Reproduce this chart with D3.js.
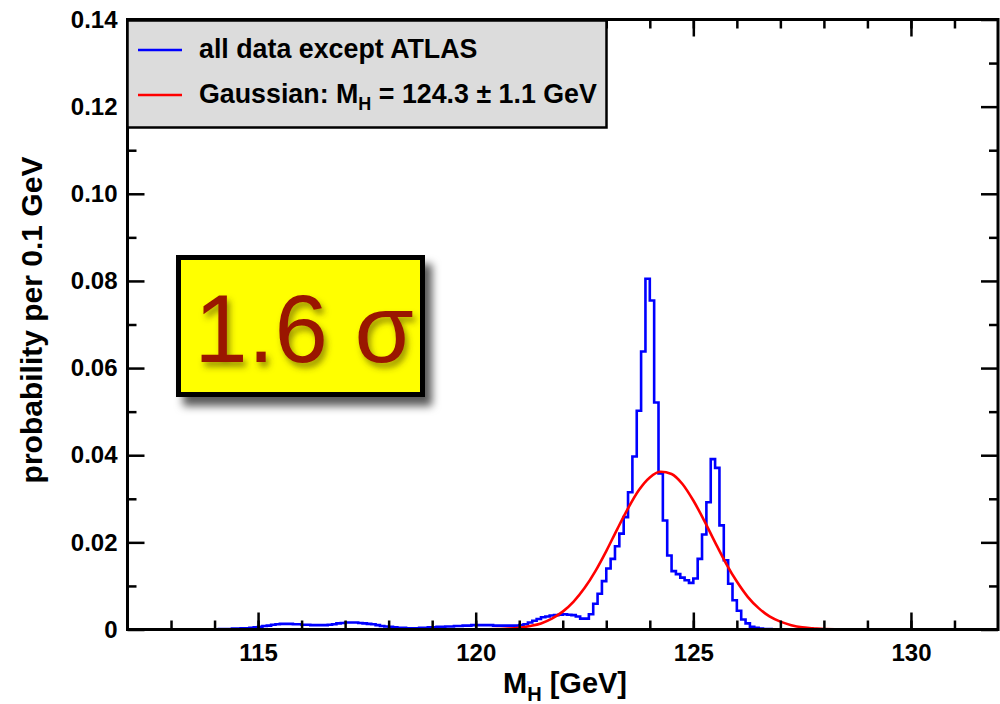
<!DOCTYPE html>
<html>
<head>
<meta charset="utf-8">
<title>Higgs mass probability</title>
<script src="https://d3js.org/d3.v7.min.js"></script>
<style>
    body { margin: 0; background: #fff; }
    svg { display: block; font-family: "Liberation Sans", Arial, Helvetica, sans-serif; }
</style>
</head>
<body>
<div id="chart"></div>
<script>
// histogram "all data except ATLAS": 0.1 GeV bins starting at histStart
const histStart = 114.0;
const binWidth = 0.1;
const histValues = [
    0.0000, 0.0001, 0.0001, 0.0001, 0.0002, 0.0002, 0.0003, 0.0003, 0.0004, 0.0005, // 114.0
    0.0006, 0.0008, 0.0009, 0.0011, 0.0012, 0.0013, 0.0013, 0.0013, 0.0012, 0.0012, // 115.0
    0.0011, 0.0011, 0.0010, 0.0010, 0.0010, 0.0010, 0.0011, 0.0012, 0.0014, 0.0015, // 116.0
    0.0016, 0.0016, 0.0016, 0.0015, 0.0014, 0.0013, 0.0012, 0.0010, 0.0008, 0.0007, // 117.0
    0.0006, 0.0005, 0.0004, 0.0004, 0.0003, 0.0003, 0.0003, 0.0004, 0.0004, 0.0005, // 118.0
    0.0005, 0.0006, 0.0006, 0.0007, 0.0007, 0.0008, 0.0008, 0.0009, 0.0009, 0.0010, // 119.0
    0.0010, 0.0010, 0.0010, 0.0010, 0.0009, 0.0009, 0.0009, 0.0009, 0.0009, 0.0009, // 120.0
    0.0010, 0.0012, 0.0016, 0.0020, 0.0024, 0.0028, 0.0030, 0.0032, 0.0033, 0.0034, // 121.0
    0.0035, 0.0034, 0.0033, 0.0030, 0.0025, 0.0025, 0.0035, 0.0059, 0.0082, 0.0111, // 122.0
    0.0140, 0.0162, 0.0191, 0.0220, 0.0258, 0.0315, 0.0397, 0.0502, 0.0638, 0.0805, // 123.0
    0.0755, 0.0521, 0.0358, 0.0250, 0.0170, 0.0134, 0.0127, 0.0119, 0.0113, 0.0107, // 124.0
    0.0117, 0.0162, 0.0218, 0.0292, 0.0391, 0.0371, 0.0239, 0.0159, 0.0105, 0.0067, // 125.0
    0.0043, 0.0023, 0.0014, 0.0006, 0.0004, 0.0002, 0.0001, 0.0001, 0.0000          // 126.0
];

// Gaussian curve (M_H = 124.3 +- 1.1 GeV)
const gaussX = [120.0, 120.5, 120.75, 121.0, 121.25, 121.5, 121.75, 122.0, 122.25, 122.5, 122.75,
    123.0, 123.25, 123.5, 123.75, 124.0, 124.25, 124.5, 124.75, 125.0, 125.25, 125.5, 125.75,
    126.0, 126.25, 126.5, 126.75, 127.0, 127.25, 127.5, 127.75, 128.0, 128.5, 129.0];
const gaussY = [0.0000, 0.0001, 0.0002, 0.0004, 0.0008, 0.0014, 0.0025, 0.0041, 0.0064, 0.0095, 0.0134,
    0.0180, 0.0230, 0.0278, 0.0320, 0.0349, 0.0362, 0.0357, 0.0334, 0.0296, 0.0250, 0.0200, 0.0152,
    0.0110, 0.0075, 0.0049, 0.0030, 0.0018, 0.0010, 0.0005, 0.0003, 0.0001, 0.0000, 0.0000];

const xMajorTicks = [115, 120, 125, 130];
const xMinorTicks = d3.range(113, 132, 1);
const yMajorTicks = [0, 0.02, 0.04, 0.06, 0.08, 0.10, 0.12, 0.14];
const yMinorTicks = [0.01, 0.03, 0.05, 0.07, 0.09, 0.11, 0.13];
const legendLabels = ["all data except ATLAS", "Gaussian: M"];
const legendColors = ["#0000ff", "#ff0000"];

const width = 1000, height = 704;
const margin = {left: 127.5, right: 2, top: 19.5, bottom: 74.5};

const x = d3.scaleLinear().domain([112, 132]).range([margin.left, width - margin.right]);
const y = d3.scaleLinear().domain([0, 0.14]).range([height - margin.bottom, margin.top]);

const svg = d3.select("#chart").append("svg")
    .attr("width", width)
    .attr("height", height);

const defs = svg.append("defs");
defs.append("filter").attr("id", "boxShadow")
    .attr("x", "-10%").attr("y", "-10%").attr("width", "130%").attr("height", "140%")
    .append("feDropShadow")
    .attr("dx", 7).attr("dy", 9).attr("stdDeviation", 4)
    .attr("flood-color", "#000").attr("flood-opacity", 0.65);
defs.append("filter").attr("id", "textShadow")
    .attr("x", "-10%").attr("y", "-10%").attr("width", "130%").attr("height", "140%")
    .append("feDropShadow")
    .attr("dx", 3).attr("dy", 5).attr("stdDeviation", 3)
    .attr("flood-color", "#4a3a00").attr("flood-opacity", 0.55);

// data lines
const histPoints = histValues.map((v, i) => [histStart + i * binWidth, v]);
histPoints.push([histStart + histValues.length * binWidth, 0]);

const stepLine = d3.line()
    .x(d => x(d[0]))
    .y(d => y(d[1]))
    .curve(d3.curveStepAfter);

svg.append("path")
    .datum(histPoints)
    .attr("fill", "none")
    .attr("stroke", legendColors[0])
    .attr("stroke-width", 2.6)
    .attr("d", stepLine);

const gaussLine = d3.line()
    .x((d, i) => x(gaussX[i]))
    .y(d => y(d))
    .curve(d3.curveMonotoneX);

svg.append("path")
    .datum(gaussY)
    .attr("fill", "none")
    .attr("stroke", legendColors[1])
    .attr("stroke-width", 2.6)
    .attr("d", gaussLine);

// axes, all ticks pointing inward
function styleAxis(g) {
    g.select(".domain").remove();
    g.selectAll(".tick line").attr("stroke", "#000").attr("stroke-width", 2.5);
    g.selectAll(".tick text")
        .attr("fill", "#000")
        .attr("font-size", 24)
        .attr("font-weight", "bold");
}

const bottom = height - margin.bottom;
const right = width - margin.right;

svg.append("g").attr("transform", `translate(0,${bottom})`)
    .call(d3.axisBottom(x).tickValues(xMinorTicks).tickSize(-9).tickFormat(""))
    .call(styleAxis);
svg.append("g").attr("transform", `translate(0,${bottom})`)
    .call(d3.axisBottom(x).tickValues(xMajorTicks).tickSize(-17).tickPadding(14).tickFormat(d3.format("d")))
    .call(styleAxis);
svg.append("g").attr("transform", `translate(0,${margin.top})`)
    .call(d3.axisTop(x).tickValues(xMinorTicks).tickSize(-9).tickFormat(""))
    .call(styleAxis);
svg.append("g").attr("transform", `translate(0,${margin.top})`)
    .call(d3.axisTop(x).tickValues(xMajorTicks).tickSize(-17).tickFormat(""))
    .call(styleAxis);

svg.append("g").attr("transform", `translate(${margin.left},0)`)
    .call(d3.axisLeft(y).tickValues(yMinorTicks).tickSize(-9).tickFormat(""))
    .call(styleAxis);
svg.append("g").attr("transform", `translate(${margin.left},0)`)
    .call(d3.axisLeft(y).tickValues(yMajorTicks).tickSize(-17).tickPadding(10)
        .tickFormat(d => d === 0 ? "0" : d3.format(".2f")(d)))
    .call(styleAxis);
svg.append("g").attr("transform", `translate(${right},0)`)
    .call(d3.axisRight(y).tickValues(yMinorTicks).tickSize(-9).tickFormat(""))
    .call(styleAxis);
svg.append("g").attr("transform", `translate(${right},0)`)
    .call(d3.axisRight(y).tickValues(yMajorTicks).tickSize(-17).tickFormat(""))
    .call(styleAxis);

svg.append("rect")
    .attr("x", margin.left).attr("y", margin.top)
    .attr("width", right - margin.left).attr("height", bottom - margin.top)
    .attr("fill", "none").attr("stroke", "#000").attr("stroke-width", 3);

// axis titles
const xTitle = svg.append("text")
    .attr("x", 565).attr("y", 693)
    .attr("text-anchor", "middle")
    .attr("font-size", 29).attr("font-weight", "bold");
xTitle.append("tspan").text("M");
xTitle.append("tspan").attr("font-size", 20).attr("dy", 8).text("H");
xTitle.append("tspan").attr("dy", -8).text(" [GeV]");

svg.append("text")
    .attr("transform", "translate(42,320) rotate(-90)")
    .attr("text-anchor", "middle")
    .attr("font-size", 30).attr("font-weight", "bold")
    .text("probability per 0.1 GeV");

// legend
const legend = svg.append("g");
legend.append("rect")
    .attr("x", 127.5).attr("y", 20.5).attr("width", 479).attr("height", 107)
    .attr("fill", "#dcdcdc").attr("stroke", "#000").attr("stroke-width", 2.5);

legendColors.forEach((c, i) => {
    const ly = 50 + i * 45;
    legend.append("line")
        .attr("x1", 138).attr("x2", 182).attr("y1", ly).attr("y2", ly)
        .attr("stroke", c).attr("stroke-width", 2.5);
    const t = legend.append("text")
        .attr("x", 199).attr("y", ly + 8)
        .attr("font-size", 26.8).attr("font-weight", "bold");
    t.append("tspan").text(legendLabels[i]);
    if (i === 1) {
        t.append("tspan").attr("font-size", 18).attr("dy", 7).text("H");
        t.append("tspan").attr("dy", -7).text(" = 124.3 \u00b1 1.1 GeV");
    }
});

// significance box
const sigBox = svg.append("g");
sigBox.append("rect")
    .attr("x", 178.5).attr("y", 257.5).attr("width", 244).attr("height", 137)
    .attr("fill", "#ffff00").attr("stroke", "#000").attr("stroke-width", 5)
    .attr("filter", "url(#boxShadow)");
sigBox.append("text")
    .attr("x", 304).attr("y", 362)
    .attr("text-anchor", "middle")
    .attr("font-size", 96)
    .attr("fill", "#9a1200")
    .attr("filter", "url(#textShadow)")
    .text("1.6 \u03c3");
</script>
</body>
</html>
